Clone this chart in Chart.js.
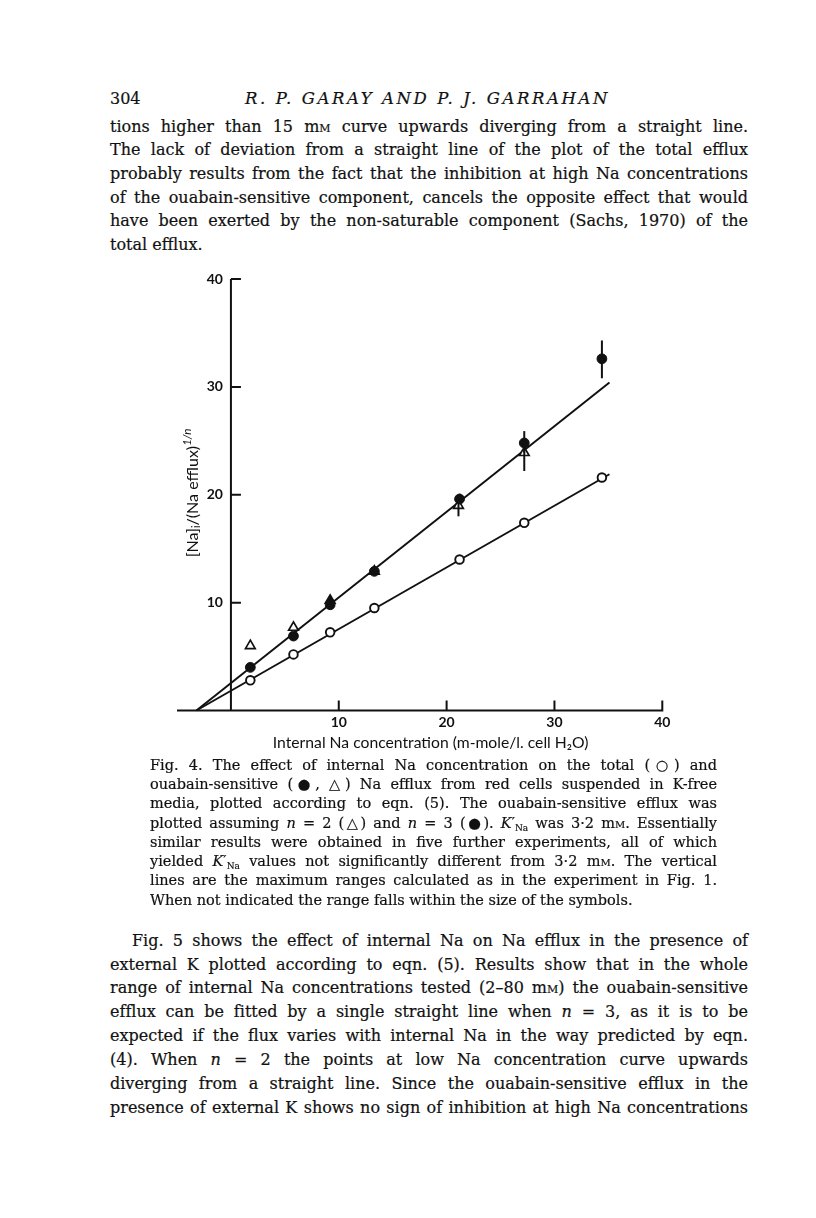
<!DOCTYPE html>
<html>
<head>
<meta charset="utf-8">
<script src="https://cdn.jsdelivr.net/npm/chart.js@4.4.1/dist/chart.umd.min.js"></script>
<style>
  html, body { margin: 0; padding: 0; background: #fff; }
  body { width: 816px; height: 1218px; position: relative; overflow: hidden; color: #111; }
  .serif { font-family: "DejaVu Serif", serif; -webkit-text-stroke: 0.2px #111; }
  .block { position: absolute; }
  .ln { white-space: nowrap; text-align: justify; text-align-last: justify; }
  .ln.end { text-align-last: left; }
  .sc { font-variant: small-caps; }
  sub { font-size: 0.62em; vertical-align: -0.3em; line-height: 0; }
  #page-no { left: 110px; top: 89px; font-size: 16px; line-height: 20px; }
  #running { left: 245px; top: 89px; width: 365px; font-size: 16.5px; line-height: 20px; font-style: italic; white-space: nowrap; }
  #para1 { left: 110px; top: 114.6px; width: 638px; font-size: 16px; line-height: 23.7px; }
  #para2 { left: 110px; top: 928.6px; width: 638px; font-size: 16px; line-height: 23.9px; }
  #caption { left: 150px; top: 755.7px; width: 567px; font-size: 14.5px; line-height: 19.3px; }
  #para2 .indent { padding-left: 22px; }
  #chartBox { position: absolute; left: 160px; top: 260px; width: 540px; height: 500px; }
</style>
</head>
<body>

<div id="page-no" class="block serif">304</div>
<div id="running" class="block serif fit">R. P. GARAY AND P. J. GARRAHAN</div>

<div id="para1" class="block serif">
  <div class="ln">tions higher than 15 m<span class="sc">m</span> curve upwards diverging from a straight line.</div>
  <div class="ln">The lack of deviation from a straight line of the plot of the total efflux</div>
  <div class="ln">probably results from the fact that the inhibition at high Na concentrations</div>
  <div class="ln">of the ouabain-sensitive component, cancels the opposite effect that would</div>
  <div class="ln">have been exerted by the non-saturable component (Sachs, 1970) of the</div>
  <div class="ln end">total efflux.</div>
</div>

<div id="chartBox"><canvas id="naChart" width="540" height="500"></canvas></div>

<div id="caption" class="block serif">
  <div class="ln">Fig. 4. The effect of internal Na concentration on the total (○) and</div>
  <div class="ln">ouabain-sensitive (●, △) Na efflux from red cells suspended in K-free</div>
  <div class="ln">media, plotted according to eqn. (5). The ouabain-sensitive efflux was</div>
  <div class="ln">plotted assuming <i>n</i> = 2 (△) and <i>n</i> = 3 (●). <i>K</i>′<sub>Na</sub> was 3·2 m<span class="sc">m</span>. Essentially</div>
  <div class="ln">similar results were obtained in five further experiments, all of which</div>
  <div class="ln">yielded <i>K</i>′<sub>Na</sub> values not significantly different from 3·2 m<span class="sc">m</span>. The vertical</div>
  <div class="ln">lines are the maximum ranges calculated as in the experiment in Fig. 1.</div>
  <div class="ln end">When not indicated the range falls within the size of the symbols.</div>
</div>

<div id="para2" class="block serif">
  <div class="ln indent">Fig. 5 shows the effect of internal Na on Na efflux in the presence of</div>
  <div class="ln">external K plotted according to eqn. (5). Results show that in the whole</div>
  <div class="ln">range of internal Na concentrations tested (2–80 m<span class="sc">m</span>) the ouabain-sensitive</div>
  <div class="ln">efflux can be fitted by a single straight line when <i>n</i> = 3, as it is to be</div>
  <div class="ln">expected if the flux varies with internal Na in the way predicted by eqn.</div>
  <div class="ln">(4). When <i>n</i> = 2 the points at low Na concentration curve upwards</div>
  <div class="ln">diverging from a straight line. Since the ouabain-sensitive efflux in the</div>
  <div class="ln">presence of external K shows no sign of inhibition at high Na concentrations</div>
</div>

<script>
// ---- data ----
const naInternal   = [1.8, 5.8, 9.2, 13.3, 21.2, 27.2, 34.4];   // internal Na (mM)
const totalEfflux  = [2.8, 5.2, 7.25, 9.5, 14.0, 17.4, 21.6];   // open circles
const sensitiveN3  = [4.0, 6.9, 9.8, 12.9, 19.6, 24.8, 32.6];   // filled circles, n = 3
const naInternalN2 = [1.8, 5.8, 9.2, 13.3, 21.1, 27.2];
const sensitiveN2  = [6.0, 7.7, 10.2, 12.9, 19.0, 23.9];        // triangles, n = 2

// vertical range bars [low, high], null = within symbol
const rangeN3 = [null, null, null, null, [19.3, 20.1], [23.9, 25.9], [30.8, 34.3]];
const rangeN2 = [null, null, null, null, [18.0, 19.6], [22.2, 24.4]];

// fitted straight lines (both meet the axis at -K'Na)
const fitX     = [-3.2, 35.1];
const fitN3    = [0, 30.4];
const fitTotal = [0, 21.9];

const xTicks = [10, 20, 30, 40];
const yTicks = [10, 20, 30, 40];
const xTitle = 'Internal Na concentration (m-mole/l. cell H\u2082O)';

const ink = '#111';
const sans = 'Lato, "Open Sans", sans-serif';
const pts = (xs, ys) => xs.map((x, i) => ({ x: x, y: ys[i] }));

// stretch / squeeze each typeset line to its column width
function fitLines() {
  document.querySelectorAll('.ln, .fit').forEach(el => {
    const W = el.classList.contains('fit') ? el.clientWidth : el.parentElement.clientWidth;
    const probe = document.createElement('span');
    probe.style.whiteSpace = 'nowrap';
    probe.innerHTML = el.innerHTML;
    el.innerHTML = '';
    el.appendChild(probe);
    const pad = parseFloat(getComputedStyle(el).paddingLeft) || 0;
    const w = probe.getBoundingClientRect().width;
    const n = el.textContent.length;
    const avail = W - pad;
    if (el.classList.contains('fit') || w > avail) {
      el.style.letterSpacing = ((avail - w) / n) + 'px';
    }
    el.innerHTML = probe.innerHTML;
  });
}
fitLines();

// axes drawn through the chart scales (ticks point inward, y axis sits at x = 0)
const paperAxes = {
  id: 'paperAxes',
  afterDatasetsDraw(chart) {
    const { ctx, scales: { x, y } } = chart;
    const x0 = x.getPixelForValue(0);
    const y0 = y.getPixelForValue(0);
    ctx.save();
    ctx.strokeStyle = ink;
    ctx.fillStyle = ink;
    ctx.lineWidth = 2;
    ctx.beginPath();
    ctx.moveTo(x.getPixelForValue(x.min), y0);
    ctx.lineTo(x.getPixelForValue(x.max) + 1, y0);
    ctx.moveTo(x0, y0);
    ctx.lineTo(x0, y.getPixelForValue(y.max));
    xTicks.forEach(v => {
      const px = x.getPixelForValue(v);
      ctx.moveTo(px, y0);
      ctx.lineTo(px, y0 - 10);
    });
    yTicks.forEach(v => {
      const py = y.getPixelForValue(v);
      ctx.moveTo(x0, py);
      ctx.lineTo(x0 + 10, py);
    });
    ctx.stroke();

    ctx.font = 'bold 14px ' + sans;
    ctx.textAlign = 'center';
    ctx.textBaseline = 'middle';
    xTicks.forEach(v => ctx.fillText(String(v), x.getPixelForValue(v), y0 + 12));
    ctx.textAlign = 'right';
    yTicks.forEach(v => ctx.fillText(String(v), x0 - 8, y.getPixelForValue(v)));

    // x title
    ctx.font = '15.7px ' + sans;
    ctx.textAlign = 'center';
    ctx.fillText(xTitle, (chart.chartArea.left + chart.chartArea.right) / 2 + 11, y0 + 32);

    // y title with subscript i and superscript 1/n
    const parts = [
      { t: '[Na]', size: 16, dy: 0 },
      { t: 'i', size: 11, dy: 4 },
      { t: '/(Na efflux)', size: 16, dy: 0 },
      { t: '1/n', size: 11.5, dy: -6 }
    ];
    let total = 0;
    parts.forEach(p => {
      ctx.font = p.size + 'px ' + sans;
      p.w = ctx.measureText(p.t).width;
      total += p.w;
    });
    ctx.save();
    ctx.translate(x0 - 38, y.getPixelForValue(20.2));
    ctx.rotate(-Math.PI / 2);
    ctx.textAlign = 'left';
    let cx = -total / 2;
    parts.forEach(p => {
      ctx.font = (p.t === '1/n' ? 'italic ' : '') + p.size + 'px ' + sans;
      ctx.fillText(p.t, cx, p.dy);
      cx += p.w;
    });
    ctx.restore();
    ctx.restore();
  }
};

// vertical range bars
const rangeBars = {
  id: 'rangeBars',
  afterDatasetsDraw(chart) {
    const { ctx, scales: { x, y } } = chart;
    ctx.save();
    ctx.strokeStyle = ink;
    ctx.lineWidth = 2;
    const draw = (xs, ranges) => ranges.forEach((r, i) => {
      if (!r) return;
      const px = x.getPixelForValue(xs[i]);
      ctx.beginPath();
      ctx.moveTo(px, y.getPixelForValue(r[0]));
      ctx.lineTo(px, y.getPixelForValue(r[1]));
      ctx.stroke();
    });
    draw(naInternal, rangeN3);
    draw(naInternalN2, rangeN2);
    ctx.restore();
  }
};

new Chart(document.getElementById('naChart'), {
  type: 'scatter',
  data: {
    datasets: [
      {
        label: 'n = 3',
        data: pts(naInternal, sensitiveN3),
        pointStyle: 'circle',
        pointRadius: 4.9,
        pointBackgroundColor: ink,
        pointBorderColor: ink,
        pointBorderWidth: 1,
        order: 1,
        clip: false
      },
      {
        label: 'n = 2',
        data: pts(naInternalN2, sensitiveN2),
        pointStyle: 'triangle',
        pointRadius: 5.6,
        pointBackgroundColor: ['#fff', '#fff', ink, ink, '#fff', '#fff'],
        pointBorderColor: ink,
        pointBorderWidth: 1.7,
        order: 2,
        clip: false
      },
      {
        label: 'total',
        data: pts(naInternal, totalEfflux),
        pointStyle: 'circle',
        pointRadius: 4.3,
        pointBackgroundColor: '#fff',
        pointBorderColor: ink,
        pointBorderWidth: 1.9,
        order: 3,
        clip: false
      },
      {
        label: 'fit n = 3',
        data: pts(fitX, fitN3),
        showLine: true,
        borderColor: ink,
        borderWidth: 2,
        pointRadius: 0,
        order: 9,
        clip: false
      },
      {
        label: 'fit total',
        data: pts(fitX, fitTotal),
        showLine: true,
        borderColor: ink,
        borderWidth: 2,
        pointRadius: 0,
        order: 9,
        clip: false
      }
    ]
  },
  options: {
    responsive: false,
    animation: false,
    events: [],
    layout: { padding: { left: 17, right: 37.7, top: 19, bottom: 49.5 } },
    plugins: {
      legend: { display: false },
      tooltip: { enabled: false }
    },
    scales: {
      x: { type: 'linear', min: -5, max: 40, display: false },
      y: { type: 'linear', min: 0, max: 40, display: false }
    }
  },
  plugins: [paperAxes, rangeBars]
});
</script>
</body>
</html>
